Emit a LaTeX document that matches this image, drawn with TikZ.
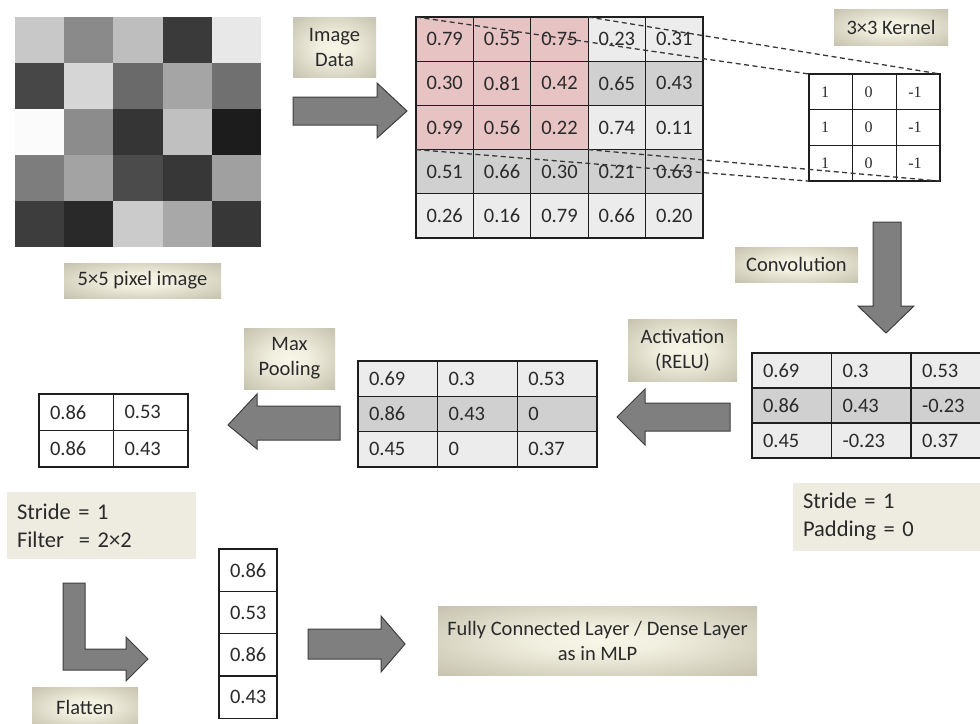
\documentclass[tikz,border=0pt]{standalone}
\usepackage{fontspec}
\setmainfont{Carlito}
\newfontfamily\kernelfont{Liberation Serif}
\definecolor{txt}{HTML}{2A2A2A}
\definecolor{linec}{HTML}{1E1E1E}
\definecolor{pk}{HTML}{E7C3C4}
\definecolor{lt}{HTML}{ECECEC}
\definecolor{dk}{HTML}{D0D0D0}
\definecolor{wt}{HTML}{FFFFFF}
\definecolor{infobg}{HTML}{EEECE1}
\definecolor{arrfill}{HTML}{7F7F7F}
\definecolor{arrdraw}{HTML}{3F3F3F}
\definecolor{lblin}{HTML}{F8F6E8}
\definecolor{lblin2}{HTML}{F1EFDF}
\definecolor{lblmid}{HTML}{B5B19C}
\definecolor{lblout}{HTML}{9C9882}
\definecolor{dashc}{HTML}{383838}
\pgfdeclareradialshading{lblshade}{\pgfpoint{0bp}{0bp}}{color(0bp)=(lblin); color(10bp)=(lblin2); color(45bp)=(lblmid); color(72bp)=(lblout); color(80bp)=(lblout)}
\tikzset{
  cellc/.style={draw=linec, line width=1.3pt, minimum width=57.4pt, minimum height=44.2pt,
    inner sep=0pt, outer sep=0pt, anchor=north west, text=txt, font=\fontsize{20.5}{24}\selectfont},
  celll/.style={draw=linec, line width=1.3pt, inner xsep=11pt, inner ysep=0pt, outer sep=0pt,
    anchor=north west, align=left, text=txt, font=\fontsize{20.5}{24}\selectfont},
  kcell/.style={draw=linec, line width=1.3pt, fill=white, minimum height=35.7pt, text width=19.7pt,
    inner xsep=12pt, inner ysep=0pt, outer sep=0pt, align=left, anchor=north west, text=txt,
    font=\kernelfont\fontsize{16}{18}\selectfont},
  lbl/.style={shading=lblshade, inner sep=0pt, outer sep=0pt, align=center, anchor=north west,
    text=txt, font=\fontsize{20.5}{25}\selectfont},
  infobox/.style={fill=infobg, inner xsep=10pt, inner ysep=0pt, outer sep=0pt, align=left,
    anchor=north west, text=txt, font=\fontsize{22.5}{28}\selectfont},
  blockarrow/.style={fill=arrfill, draw=arrdraw, line width=1pt, line join=miter},
  kdash/.style={draw=dashc, line width=1.3pt, dash pattern=on 5pt off 3.5pt}
}
\begin{document}
\begin{tikzpicture}[x=1pt,y=-1pt]
\useasboundingbox (0,0) rectangle (980,723);
\clip (0,0) rectangle (980,723);
\fill[white] (0,0) rectangle (980,723);

% 5x5 pixel image
\foreach \row [count=\r] in {{200,138,190,58,232},{71,214,106,165,112},{251,140,53,192,28},{125,163,75,55,160},{61,41,203,168,55}}{
  \foreach \g [count=\c] in \row {
    \definecolor{pxc}{RGB}{\g,\g,\g}
    \fill[pxc] ({15+(\c-1)*49.2},{17+(\r-1)*46}) rectangle ++(49.6,46.4);
  }
}

% 5x5 data matrix
\foreach \row [count=\r] in {
 {0.79/pk,0.55/pk,0.75/pk,0.23/lt,0.31/lt},
 {0.30/pk,0.81/pk,0.42/pk,0.65/dk,0.43/dk},
 {0.99/pk,0.56/pk,0.22/pk,0.74/lt,0.11/lt},
 {0.51/dk,0.66/dk,0.30/dk,0.21/dk,0.63/dk},
 {0.26/lt,0.16/lt,0.79/lt,0.66/lt,0.20/lt}}{
  \foreach \v/\f [count=\c] in \row {
    \node[cellc, fill=\f] (a-\r-\c) at ({416+(\c-1)*57.4},{17+(\r-1)*44.2}) {\v};
  }
}

% kernel
\foreach \r in {1,2,3}{
  \foreach \v [count=\c] in {1,0,-1} {
    \node[kcell] (k-\r-\c) at ({809+(\c-1)*43.7},{74+(\r-1)*35.7}) {\v};
  }
}

% dashed projection lines
\draw[kdash] (a-1-1.north west) -- (k-1-1.north west);
\draw[kdash] (a-1-3.north east) -- (k-1-3.north east);
\draw[kdash] (a-3-1.south west) -- (k-3-1.south west);
\draw[kdash] (a-3-3.south east) -- (k-3-3.south east);

% convolution result
\foreach \row [count=\r] in {
 {0.69/lt,0.3/lt,0.53/lt},
 {0.86/dk,0.43/dk,-0.23/dk},
 {0.45/lt,-0.23/lt,0.37/lt}}{
  \foreach \v/\f [count=\c] in \row {
    \node[celll, fill=\f, text width=57.5pt, minimum height=35pt] (c-\r-\c) at ({752+(\c-1)*79.5},{353+(\r-1)*35}) {\v};
  }
}

% ReLU result
\foreach \row [count=\r] in {
 {0.69/lt,0.3/lt,0.53/lt},
 {0.86/dk,0.43/dk,0/dk},
 {0.45/lt,0/lt,0.37/lt}}{
  \foreach \v/\f [count=\c] in \row {
    \node[celll, fill=\f, text width=57.7pt, minimum height=35.3pt] (r-\r-\c) at ({358+(\c-1)*79.7},{361+(\r-1)*35.3}) {\v};
  }
}

% pooled
\foreach \row [count=\r] in {{0.86,0.53},{0.86,0.43}}{
  \foreach \v [count=\c] in \row {
    \node[celll, fill=white, text width=52.5pt, minimum height=36.5pt] (p-\r-\c) at ({39+(\c-1)*74.5},{394+(\r-1)*36.5}) {\v};
  }
}

% flattened
\foreach \v [count=\r] in {0.86,0.53,0.86,0.43}{
  \node[celll, fill=white, text width=36pt, minimum height=42.3pt] (f-\r) at (219,{549+(\r-1)*42.3}) {\v};
}

% block arrows
\draw[blockarrow] (293,97) -- (377,97) -- (377,83) -- (407,111) -- (377,138) -- (377,125) -- (293,125) -- cycle;
\draw[blockarrow] (873,222) -- (901,222) -- (901,306) -- (914,306) -- (886,333) -- (858,306) -- (873,306) -- cycle;
\draw[blockarrow] (730,403) -- (645,403) -- (645,389) -- (617,417) -- (645,445) -- (645,431) -- (730,431) -- cycle;
\draw[blockarrow] (340,406) -- (257,406) -- (257,394) -- (228,425) -- (257,449) -- (257,440) -- (340,440) -- cycle;
\draw[blockarrow] (63,583) -- (85,583) -- (85,649) -- (126,649) -- (126,637) -- (148,659) -- (126,681) -- (126,670) -- (63,670) -- cycle;
\draw[blockarrow] (308,629) -- (381,629) -- (381,616) -- (405,644) -- (381,672) -- (381,659) -- (308,659) -- cycle;

% labels
\node[lbl, minimum width=157pt, minimum height=35pt] (l5) at (64,263) {5×5 pixel image};
\node[lbl, minimum width=83pt, minimum height=60pt] (limg) at (293,17) {Image\\Data};
\node[lbl, minimum width=114pt, minimum height=36pt] (lker) at (834,9) {3×3 Kernel};
\node[lbl, minimum width=123pt, minimum height=35pt] (lconv) at (735,247) {Convolution};
\node[lbl, minimum width=109pt, minimum height=62pt] (lact) at (628,319) {Activation\\(RELU)};
\node[lbl, minimum width=91pt, minimum height=61pt] (lmax) at (244,328) {Max\\Pooling};
\node[lbl, minimum width=106pt, minimum height=40pt] (lflat) at (32,687) {Flatten};
\node[lbl, minimum width=319pt, minimum height=69pt] (lfc) at (438,606) {Fully Connected Layer / Dense Layer\\as in MLP};

% info boxes
\node[infobox, text width=180pt, minimum height=68pt] (s1) at (793,483) {Stride = 1\\Padding = 0};
\node[infobox, text width=169pt, minimum height=67pt] (s2) at (7,492) {Stride = 1\\Filter~~= 2×2};
\end{tikzpicture}
\end{document}
